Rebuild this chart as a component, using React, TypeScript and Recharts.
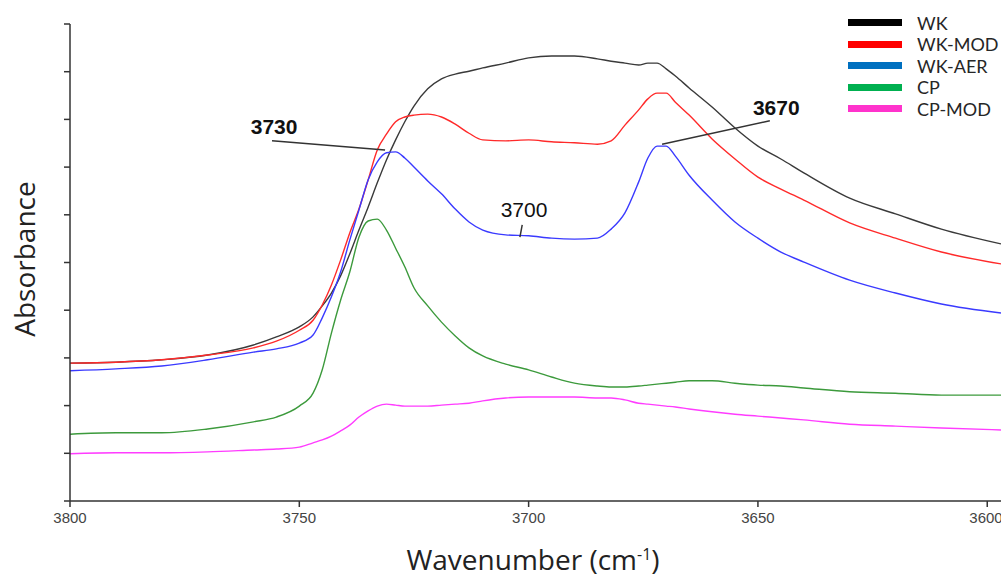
import React from 'react';
import { LineChart, Line, XAxis, YAxis, ReferenceLine, ReferenceDot } from 'recharts';

const wavenumbers = [3800, 3790, 3780, 3770, 3760, 3755, 3750, 3747, 3745, 3743, 3741, 3739, 3737, 3735, 3733, 3731, 3729, 3727, 3725, 3722, 3719, 3716, 3713, 3710, 3705, 3700, 3695, 3690, 3685, 3682, 3679, 3676, 3674, 3672, 3670, 3668, 3665, 3660, 3655, 3650, 3645, 3640, 3630, 3620, 3610, 3597];

const wk = [2.89, 2.91, 2.96, 3.06, 3.27, 3.44, 3.65, 3.86, 4.09, 4.36, 4.72, 5.18, 5.68, 6.16, 6.67, 7.15, 7.57, 7.95, 8.28, 8.64, 8.85, 8.95, 9.01, 9.08, 9.18, 9.29, 9.33, 9.33, 9.27, 9.22, 9.18, 9.14, 9.18, 9.18, 9.06, 8.91, 8.66, 8.26, 7.82, 7.44, 7.17, 6.88, 6.35, 6.02, 5.70, 5.39];
const wkMod = [2.89, 2.91, 2.96, 3.06, 3.21, 3.35, 3.58, 3.79, 4.11, 4.53, 5.05, 5.62, 6.12, 6.73, 7.36, 7.69, 7.95, 8.05, 8.09, 8.11, 8.05, 7.90, 7.71, 7.57, 7.55, 7.57, 7.53, 7.51, 7.48, 7.55, 7.88, 8.20, 8.43, 8.55, 8.55, 8.36, 8.09, 7.59, 7.17, 6.79, 6.54, 6.31, 5.83, 5.51, 5.22, 4.97];
const wkAer = [2.73, 2.77, 2.83, 2.96, 3.12, 3.19, 3.31, 3.48, 3.84, 4.28, 4.80, 5.47, 6.10, 6.73, 7.11, 7.30, 7.32, 7.19, 7.00, 6.71, 6.44, 6.12, 5.85, 5.68, 5.58, 5.56, 5.51, 5.49, 5.51, 5.70, 6.04, 6.69, 7.19, 7.44, 7.44, 7.23, 6.83, 6.31, 5.85, 5.51, 5.22, 5.01, 4.63, 4.36, 4.13, 3.94];
const cp = [1.40, 1.43, 1.43, 1.51, 1.66, 1.76, 1.99, 2.26, 2.75, 3.52, 4.21, 4.80, 5.53, 5.87, 5.91, 5.68, 5.30, 4.91, 4.47, 4.09, 3.75, 3.46, 3.21, 3.04, 2.87, 2.75, 2.60, 2.47, 2.41, 2.39, 2.39, 2.41, 2.43, 2.45, 2.47, 2.49, 2.52, 2.52, 2.47, 2.43, 2.41, 2.37, 2.29, 2.26, 2.22, 2.22];
const cpMod = [0.99, 1.01, 1.01, 1.03, 1.07, 1.09, 1.13, 1.22, 1.28, 1.36, 1.47, 1.59, 1.76, 1.89, 1.99, 2.03, 2.01, 1.99, 1.99, 1.99, 2.01, 2.03, 2.05, 2.10, 2.16, 2.18, 2.18, 2.18, 2.16, 2.16, 2.12, 2.05, 2.03, 2.01, 1.99, 1.97, 1.93, 1.87, 1.82, 1.78, 1.74, 1.70, 1.61, 1.57, 1.53, 1.49];

const xTicks = [3800, 3750, 3700, 3650, 3600];
const yTicks = [0, 1, 2, 3, 4, 5, 6, 7, 8, 9, 10];

const seriesNames = ['WK', 'WK-MOD', 'WK-AER', 'CP', 'CP-MOD'];
const seriesKeys = ['wk', 'wkMod', 'wkAer', 'cp', 'cpMod'];
const lineColors = ['#3a3a3a', '#ff2a2a', '#3a3aff', '#3c9a3c', '#ff3cff'];
const legendColors = ['#000000', '#ff0000', '#0070c0', '#00b050', '#ff33cc'];

// annotations: label text, label position, leader segment
const annotLabels = ['3730', '3700', '3670'];
const annotLabelX = [3755.5, 3701.0, 3646.0];
const annotLabelY = [7.84, 6.10, 8.24];
const annotBold = [true, false, true];
const annotX1 = [3755.95, 3701.9, 3670.9];
const annotY1 = [7.55, 5.53, 7.48];
const annotX2 = [3731.3, 3701.4, 3647.4];
const annotY2 = [7.36, 5.79, 7.97];

const data = wavenumbers.map((w, i) => ({
  w,
  wk: wk[i],
  wkMod: wkMod[i],
  wkAer: wkAer[i],
  cp: cp[i],
  cpMod: cpMod[i],
}));

const LegendBox = () => (
  <div style={{ position: 'absolute', left: 848, top: 12, width: 153, fontFamily: 'Lato, sans-serif', fontSize: 18, color: '#262626', whiteSpace: 'nowrap' }}>
    {seriesNames.map((n, i) => (
      <div key={n} style={{ display: 'flex', alignItems: 'center', height: 21.5 }}>
        <div style={{ width: 54, height: 7, flex: '0 0 54px', background: legendColors[i], marginRight: 15 }} />
        <span style={{ lineHeight: '18px' }}>{n}</span>
      </div>
    ))}
  </div>
);

export default function App() {
  return (
    <div style={{ position: 'absolute', left: 0, top: 0, width: 1001, height: 578, background: '#fff', overflow: 'hidden' }}>
      <LineChart width={1001} height={578} data={data} margin={{ top: 24, right: 0, bottom: 0, left: 0 }}>
        <XAxis
          dataKey="w"
          type="number"
          domain={[3597, 3800]}
          reversed
          ticks={xTicks}
          allowDataOverflow
          height={77}
          stroke="#333"
          strokeWidth={1.5}
          tickSize={6}
          tickMargin={5}
          tick={{ fill: '#444', fontSize: 15, fontFamily: '"Liberation Sans", Arial, sans-serif' }}
        />
        <YAxis
          type="number"
          domain={[0, 10]}
          ticks={yTicks}
          width={70}
          stroke="#333"
          strokeWidth={1.5}
          tickSize={6}
          tickFormatter={() => ''}
        />
        {seriesKeys.map((k, i) => (
          <Line
            key={k}
            type="monotone"
            dataKey={k}
            name={seriesNames[i]}
            stroke={lineColors[i]}
            strokeWidth={1.4}
            dot={false}
            isAnimationActive={false}
          />
        ))}
        {annotLabels.map((t, i) => (
          <ReferenceLine
            key={'l' + t}
            segment={[{ x: annotX1[i], y: annotY1[i] }, { x: annotX2[i], y: annotY2[i] }]}
            stroke="#333"
            strokeWidth={1.5}
            ifOverflow="visible"
          />
        ))}
        {annotLabels.map((t, i) => (
          <ReferenceDot
            key={'d' + t}
            x={annotLabelX[i]}
            y={annotLabelY[i]}
            r={0}
            fill="none"
            stroke="none"
            ifOverflow="visible"
            label={{
              value: t,
              position: 'center',
              fill: '#111',
              fontSize: 21,
              fontWeight: annotBold[i] ? 'bold' : 'normal',
              fontFamily: '"Liberation Sans", Arial, sans-serif',
            }}
          />
        ))}
      </LineChart>
      <LegendBox />
      <div style={{ position: 'absolute', left: 24, top: 259, transform: 'translate(-50%, -50%) rotate(-90deg)', fontFamily: '"Open Sans", sans-serif', fontSize: 28, lineHeight: '28px', color: '#222', whiteSpace: 'nowrap' }}>
        Absorbance
      </div>
      <div style={{ position: 'absolute', left: 533, top: 545, transform: 'translateX(-50%)', fontFamily: '"Open Sans", sans-serif', fontSize: 28, lineHeight: '28px', color: '#222', whiteSpace: 'nowrap' }}>
        Wavenumber (cm<sup style={{ fontSize: 16, lineHeight: '0px' }}>-1</sup>)
      </div>
    </div>
  );
}
